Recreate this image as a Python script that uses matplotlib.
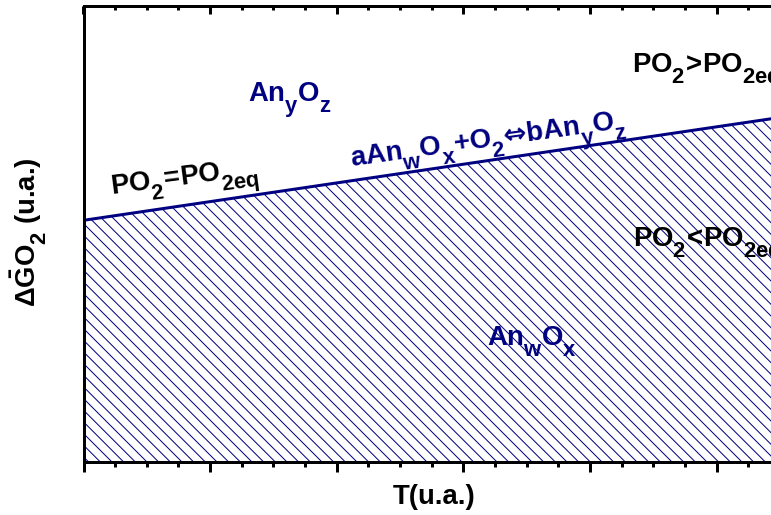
import matplotlib
matplotlib.use('Agg')
import matplotlib.pyplot as plt
import matplotlib._mathtext as mathtext_internal
from matplotlib.ticker import MultipleLocator, AutoMinorLocator

# dpi chosen so that the hatch spacing matches the reference
DPI = 140


def px(v):
    # pixels -> points
    return v * 72.0 / DPI


# equilibrium line  aAnwOx + O2 <=> bAnyOz
T = [0, 6]
G = [2.65, 3.88]

navy = '#000080'

# bigger, lower subscripts like the original (Origin style)
mathtext_internal.SHRINK_FACTOR = 0.8
mathtext_internal.FontConstantsBase.sub1 = 0.75

plt.rcParams['font.family'] = ['Liberation Sans', 'DejaVu Sans']
plt.rcParams['font.weight'] = 'bold'
plt.rcParams['mathtext.fontset'] = 'custom'
plt.rcParams['mathtext.rm'] = 'Liberation Sans:bold'
plt.rcParams['mathtext.it'] = 'Liberation Sans:bold'
plt.rcParams['mathtext.bf'] = 'Liberation Sans:bold'
plt.rcParams['mathtext.sf'] = 'DejaVu Sans:bold'
plt.rcParams['mathtext.fallback'] = 'stixsans'
plt.rcParams['hatch.linewidth'] = px(1.0)
plt.rcParams['hatch.color'] = navy

fig = plt.figure(figsize=(771 / DPI, 515 / DPI), dpi=DPI)
ax = fig.add_axes([83.5 / 771, 53 / 515, 759.6 / 771, 456 / 515])

ax.fill_between(T, 0, G, facecolor='white', edgecolor=navy, hatch='\\\\\\\\', linewidth=0)
ax.plot(T, G, color=navy, lw=px(3), solid_capstyle='butt')

ax.set_xlim(0, 6)
ax.set_ylim(0, 5)

for sp in ax.spines.values():
    sp.set_linewidth(px(3))
ax.spines['right'].set_visible(False)

ax.xaxis.set_major_locator(MultipleLocator(1))
ax.xaxis.set_minor_locator(AutoMinorLocator(4))
ax.yaxis.set_major_locator(MultipleLocator(1))
ax.yaxis.set_minor_locator(AutoMinorLocator(4))
ax.tick_params(which='both', direction='out', width=px(3), labelbottom=False, labelleft=False)
ax.tick_params(which='major', length=px(10))
ax.tick_params(which='minor', length=px(5))

# top ticks point inwards
ax2 = ax.twiny()
ax2.set_xlim(ax.get_xlim())
ax2.xaxis.set_major_locator(MultipleLocator(1))
ax2.xaxis.set_minor_locator(AutoMinorLocator(4))
for sp in ax2.spines.values():
    sp.set_visible(False)
ax2.tick_params(which='both', direction='in', width=px(3), labeltop=False)
ax2.tick_params(which='major', length=px(8))
ax2.tick_params(which='minor', length=px(4))
ax2.set_yticks([])

fs = px(27.5)
ax.set_xlabel('T(u.a.)', fontsize=fs, fontweight='bold')
ax.xaxis.set_label_coords(0.461, -0.048)
ax.text(-0.0717, 0.504, r'$\Delta\bar{G}O_2$ (u.a.)', transform=ax.transAxes,
        rotation=90, ha='center', va='center', fontsize=fs)

ax.text(1.30, 3.95, r'$An_yO_z$', color=navy, fontsize=fs)
ax.text(2.12, 3.24, r'$aAn_wO_x{+}O_2\mathsf{⇔}bAn_yO_z$', color=navy, fontsize=fs,
        rotation=8, rotation_mode='anchor', ha='left', va='baseline')
ax.text(0.225, 2.93, r'$PO_2\!{=}\!PO_{2eq}$', color='black', fontsize=fs,
        rotation=7.5, rotation_mode='anchor', ha='left', va='baseline')
ax.text(4.33, 4.265, r'$PO_2\!{>}\!PO_{2eq}$', color='black', fontsize=fs)
ax.text(4.34, 2.36, r'$PO_2\!{<}\!PO_{2eq}$', color='black', fontsize=fs)
ax.text(3.19, 1.28, r'$An_wO_x$', color=navy, fontsize=fs)

fig.savefig('out.png', dpi=DPI)
